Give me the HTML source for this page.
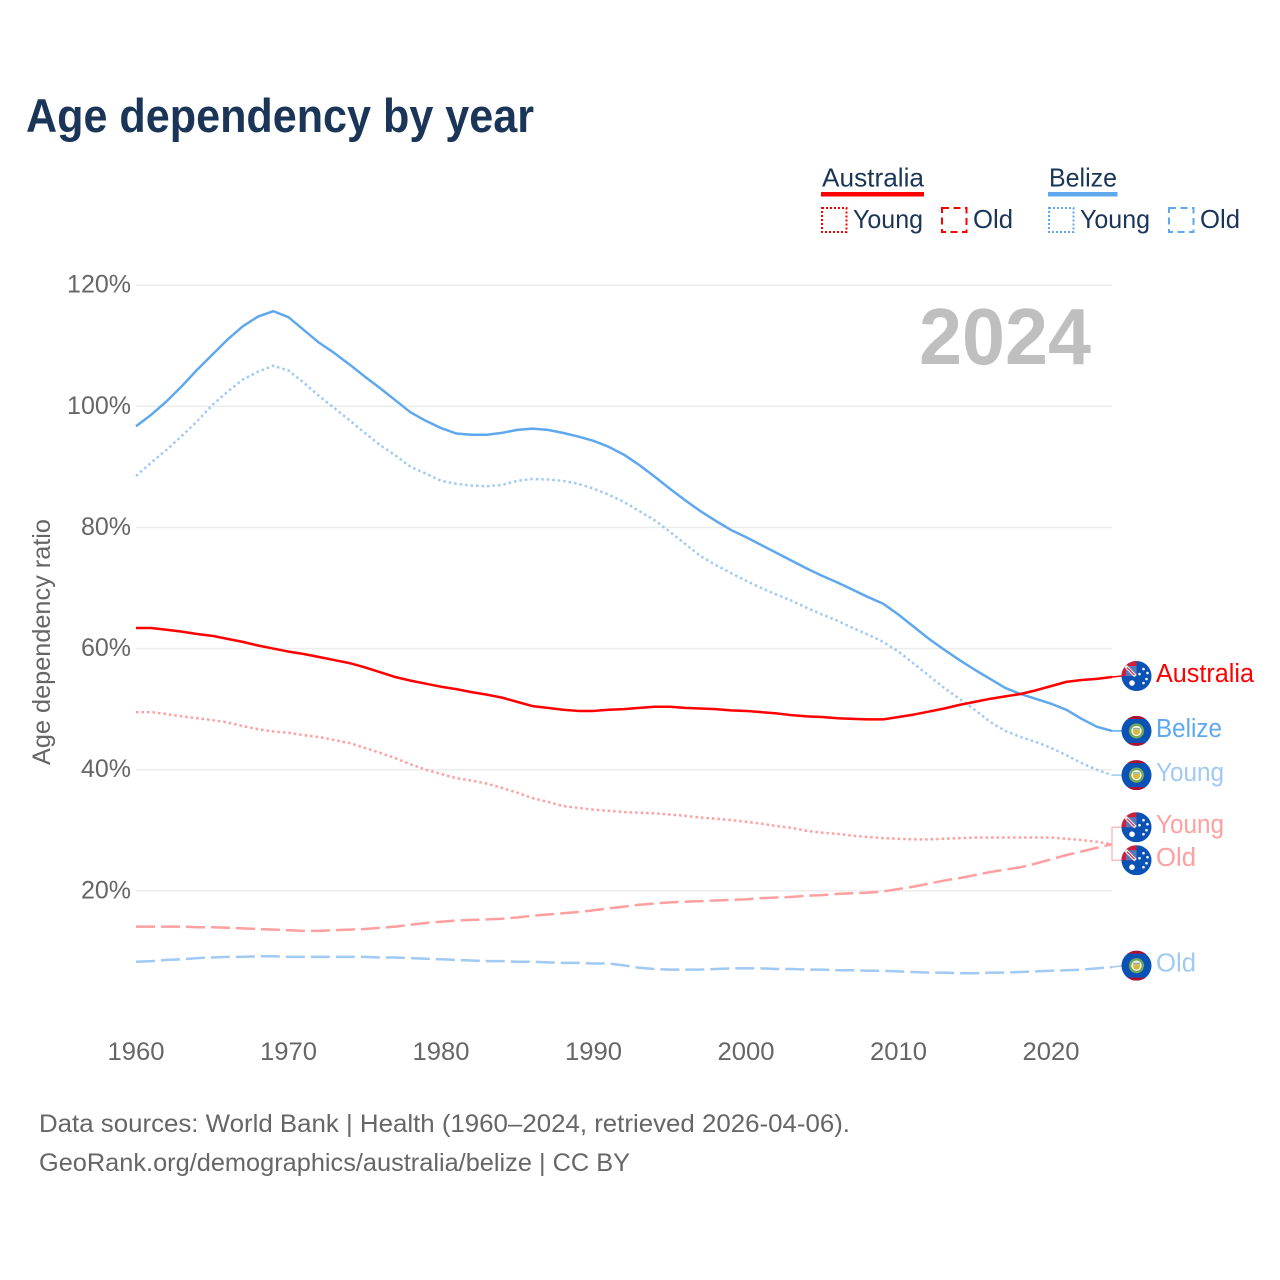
<!DOCTYPE html>
<html lang="en">
<head>
<meta charset="utf-8">
<title>Age dependency by year</title>
<style>
html,body{margin:0;padding:0;background:#fff}
svg{display:block}
text{font-family:"Liberation Sans",sans-serif}
</style>
</head>
<body>
<svg id="chart" xmlns="http://www.w3.org/2000/svg" width="1280" height="1280" viewBox="0 0 1280 1280">
  <defs><clipPath id="flag-clip"><circle cx="0" cy="0" r="15"/></clipPath></defs>
  <rect width="1280" height="1280" fill="#fff"/>
  <text x="26" y="132" font-size="47" font-weight="700" fill="#1a3557" textLength="508" lengthAdjust="spacingAndGlyphs">Age dependency by year</text>

  <g font-size="26" fill="#1a3557">
    <text x="822" y="186.5" textLength="102" lengthAdjust="spacingAndGlyphs">Australia</text>
    <rect x="821" y="192" width="103" height="4.5" fill="#ff0000"/>
    <rect x="822" y="208" width="24.5" height="24" fill="none" stroke="#ff0000" stroke-width="2" stroke-dasharray="2 2"/>
    <text x="853" y="228" textLength="70" lengthAdjust="spacingAndGlyphs">Young</text>
    <rect x="942" y="208" width="24.5" height="24" fill="none" stroke="#ff0000" stroke-width="2" stroke-dasharray="7 4.5"/>
    <text x="973" y="228" textLength="40" lengthAdjust="spacingAndGlyphs">Old</text>
    <text x="1049" y="186.5" textLength="68" lengthAdjust="spacingAndGlyphs">Belize</text>
    <rect x="1048" y="192" width="69.5" height="4.5" fill="#5fa8ee"/>
    <rect x="1049" y="208" width="24.5" height="24" fill="none" stroke="#5fa8ee" stroke-width="2" stroke-dasharray="2 2"/>
    <text x="1080" y="228" textLength="70" lengthAdjust="spacingAndGlyphs">Young</text>
    <rect x="1169" y="208" width="24.5" height="24" fill="none" stroke="#5fa8ee" stroke-width="2" stroke-dasharray="7 4.5"/>
    <text x="1200" y="228" textLength="40" lengthAdjust="spacingAndGlyphs">Old</text>
  </g>

  <g id="grid"></g>
  <g id="yticks" font-size="25" fill="#666"></g>
  <g id="xticks" font-size="25" fill="#666"></g>
  <text transform="translate(50,642) rotate(-90)" text-anchor="middle" font-size="25" fill="#666" textLength="246" lengthAdjust="spacingAndGlyphs">Age dependency ratio</text>
  <text x="919" y="364" font-size="80" font-weight="700" fill="#bfbfbf" textLength="172" lengthAdjust="spacingAndGlyphs">2024</text>
  <g id="connectors"></g>
  <g id="lines"></g>
  <g id="labels"></g>

  <text x="39" y="1132" font-size="25" fill="#666" textLength="811" lengthAdjust="spacingAndGlyphs">Data sources: World Bank | Health (1960–2024, retrieved 2026-04-06).</text>
  <text x="39" y="1171" font-size="25" fill="#666" textLength="591" lengthAdjust="spacingAndGlyphs">GeoRank.org/demographics/australia/belize | CC BY</text>
</svg>
<script>
const startYear = 1960;
const yTickValues = [20, 40, 60, 80, 100, 120];
const xTickValues = [1960, 1970, 1980, 1990, 2000, 2010, 2020];

const belizeTotal = [
  96.7,98.6,100.8,103.3,106,108.5,111,113.2,114.8,115.7,
  114.7,112.6,110.5,108.8,106.9,104.9,103,101,99,97.6,
  96.4,95.5,95.3,95.3,95.6,96.1,96.3,96.1,95.6,95,
  94.3,93.3,92,90.3,88.4,86.4,84.5,82.7,81.1,79.6,
  78.4,77.1,75.8,74.5,73.2,72,70.9,69.7,68.5,67.4,
  65.6,63.6,61.6,59.8,58.1,56.5,55,53.5,52.5,51.7,
  50.9,49.9,48.4,47.1,46.4
];
const belizeYoung = [
  88.5,90.7,92.8,95.1,97.5,100.2,102.4,104.4,105.7,106.7,
  105.9,103.9,101.7,99.7,97.7,95.6,93.6,91.9,90,88.9,
  87.7,87.2,86.9,86.8,87,87.7,88,87.9,87.7,87.2,
  86.4,85.4,84.2,82.7,81.2,79.3,77.3,75.3,73.8,72.5,
  71.2,70,68.9,67.9,66.7,65.6,64.6,63.4,62.3,61.1,
  59.5,57.5,55.5,53.5,51.7,49.9,47.9,46.4,45.4,44.6,
  43.6,42.4,41.1,40,39.1
];
const belizeOld = [
  8.3,8.4,8.6,8.7,8.9,9,9.1,9.1,9.2,9.2,
  9.1,9.1,9.1,9.1,9.1,9.1,9,9,8.9,8.8,
  8.7,8.6,8.5,8.4,8.4,8.3,8.3,8.2,8.1,8.1,
  8,8,7.7,7.3,7.1,7,7,7,7.1,7.2,
  7.2,7.2,7.1,7.1,7,7,6.9,6.9,6.8,6.8,
  6.7,6.6,6.5,6.5,6.4,6.4,6.5,6.5,6.6,6.7,
  6.8,6.9,7,7.2,7.4
];
const australiaTotal = [
  63.4,63.4,63.1,62.8,62.4,62.1,61.6,61.1,60.5,60,
  59.5,59.1,58.6,58.1,57.6,56.9,56.1,55.3,54.7,54.2,
  53.7,53.3,52.8,52.4,51.9,51.2,50.5,50.2,49.9,49.7,
  49.7,49.9,50,50.2,50.4,50.4,50.2,50.1,50,49.8,
  49.7,49.5,49.3,49,48.8,48.7,48.5,48.4,48.3,48.3,
  48.7,49.1,49.6,50.1,50.7,51.2,51.7,52.1,52.5,53.1,
  53.8,54.5,54.8,55,55.3
];
const australiaYoung = [
  49.5,49.5,49.2,48.8,48.5,48.2,47.8,47.2,46.7,46.3,
  46.1,45.7,45.4,44.9,44.4,43.6,42.8,41.9,40.9,40,
  39.3,38.6,38.2,37.7,37,36.2,35.3,34.7,34,33.7,
  33.4,33.2,33,32.9,32.8,32.6,32.4,32.1,31.9,31.7,
  31.4,31.1,30.7,30.4,29.9,29.6,29.4,29.1,28.9,28.7,
  28.6,28.5,28.5,28.6,28.7,28.8,28.8,28.8,28.8,28.8,
  28.8,28.6,28.4,28.1,27.7
];
const australiaOld = [
  14.1,14.1,14.1,14.1,14,14,13.9,13.8,13.7,13.6,
  13.5,13.4,13.4,13.5,13.6,13.7,13.9,14.1,14.4,14.7,
  14.9,15.1,15.2,15.3,15.4,15.6,15.9,16.1,16.3,16.5,
  16.8,17.1,17.4,17.7,17.9,18.1,18.2,18.3,18.4,18.5,
  18.6,18.8,18.9,19,19.2,19.3,19.5,19.6,19.7,19.9,
  20.3,20.7,21.2,21.7,22.1,22.6,23.1,23.5,23.9,24.5,
  25.2,25.9,26.5,27.1,27.7
];

const NS = 'http://www.w3.org/2000/svg';
const xScale = function (year) { return 136 + (year - startYear) * 15.25; };
const yScale = function (v) { return 1012 - v * 6.0575; };
const RED = '#ff0000', BLUE = '#5fa8ee', LRED = '#ff9f9f', LBLUE = '#a0c9f3';
const DOTS = '2.5 3', DASH = '19 6';

function make(tag, parent, attrs, txt) {
  const el = document.createElementNS(NS, tag);
  for (const k in attrs) el.setAttribute(k, attrs[k]);
  if (txt !== undefined) el.textContent = txt;
  parent.appendChild(el);
  return el;
}

const gridG = document.getElementById('grid');
const yG = document.getElementById('yticks');
yTickValues.forEach(function (v) {
  const gl = make('line', gridG, {x1: 136, x2: 1112, y1: yScale(v), y2: yScale(v), stroke: '#ececec', 'stroke-width': 1.5});
  
  
  const t = make('text', yG, {x: 131, y: yScale(v) + 7.5, 'text-anchor': 'end'}, v + '%');
  
  
});

const xG = document.getElementById('xticks');
xTickValues.forEach(function (yr) {
  const t = make('text', xG, {x: xScale(yr) - 28.5, y: 1060, textLength: 57, lengthAdjust: 'spacingAndGlyphs'}, String(yr));
  
  
});

function drawAustraliaFlag(g) {
  const c = make('g', g, {'clip-path': 'url(#flag-clip)'});
  make('rect', c, {x: -15, y: -15, width: 30, height: 30, fill: '#0a52b5'});
  make('rect', c, {x: -15, y: -15, width: 15, height: 15, fill: '#cf1f3c'});
  make('rect', c, {x: -10.5, y: -10, width: 10.5, height: 10, fill: '#5a78b8'});
  make('path', c, {d: 'M-11 -10 L-1 0', stroke: '#f4eef0', 'stroke-width': 3.4, fill: 'none'});
  make('path', c, {d: 'M-9.5 -8.5 L-2 -1', stroke: '#d8324e', 'stroke-width': 1.2, fill: 'none'});
  make('circle', c, {cx: -4.5, cy: 7, r: 2.8, fill: '#fff'});
  [[7, -7], [11, -3], [3, -2], [7, 7], [10, 3]].forEach(function (p) {
    make('circle', c, {cx: p[0], cy: p[1], r: 1.3, fill: '#fff'});
  });
}
function drawBelizeFlag(g) {
  const c = make('g', g, {'clip-path': 'url(#flag-clip)'});
  make('rect', c, {x: -15, y: -15, width: 30, height: 30, fill: '#0a52b5'});
  make('rect', c, {x: -15, y: -15, width: 30, height: 3, fill: '#b01030'});
  make('rect', c, {x: -15, y: 12, width: 30, height: 3, fill: '#b01030'});
  make('circle', c, {cx: 0, cy: 0, r: 7.6, fill: '#6fa85a'});
  make('circle', c, {cx: 0, cy: 0, r: 5.2, fill: '#f4f2e6'});
  make('path', c, {d: 'M-3.4 -1.2 H3.4 V1 A3.4 3 0 0 1 -3.4 1 Z', fill: '#d9b840'});
  make('rect', c, {x: -3.4, y: -3, width: 6.8, height: 1.6, fill: '#8fb0a0'});
}

const seriesList = [
  {key: 'belize-total', values: belizeTotal, color: BLUE, dash: null, label: 'Belize', flag: drawBelizeFlag, labelColor: BLUE, shift: 0, w: 66},
  {key: 'belize-young', values: belizeYoung, color: LBLUE, dash: DOTS, label: 'Young', flag: drawBelizeFlag, labelColor: LBLUE, shift: 0, w: 68},
  {key: 'belize-old', values: belizeOld, color: LBLUE, dash: DASH, label: 'Old', flag: drawBelizeFlag, labelColor: LBLUE, shift: -1.5, w: 40},
  {key: 'australia-young', values: australiaYoung, color: LRED, dash: DOTS, label: 'Young', flag: drawAustraliaFlag, labelColor: LRED, shift: -17, w: 68},
  {key: 'australia-old', values: australiaOld, color: LRED, dash: DASH, label: 'Old', flag: drawAustraliaFlag, labelColor: LRED, shift: 16, w: 40},
  {key: 'australia-total', values: australiaTotal, color: RED, dash: null, label: 'Australia', flag: drawAustraliaFlag, labelColor: RED, shift: -1, w: 98}
];

const lineG = document.getElementById('lines');
const connG = document.getElementById('connectors');
const labelG = document.getElementById('labels');
seriesList.forEach(function (s) {
  const pts = s.values.map(function (v, i) { return xScale(startYear + i).toFixed(2) + ',' + yScale(v).toFixed(2); }).join(' ');
  const attrs = {points: pts, fill: 'none', stroke: s.color, 'stroke-width': 2.5, 'stroke-linejoin': 'round'};
  if (s.dash) attrs['stroke-dasharray'] = s.dash;
  const pl = make('polyline', lineG, attrs);
  
  

  const endV = s.values[s.values.length - 1];
  const endY = yScale(endV);
  const fy = endY + s.shift;
  const bracket = s.shift > 2 || s.shift < -2;
  const conn = bracket
    ? 'M1112 ' + endY + ' L1112 ' + fy + ' L1122 ' + fy
    : 'M1112 ' + endY + ' L1122 ' + fy;
  const cp = make('path', connG, {d: conn, fill: 'none', stroke: s.color, 'stroke-width': bracket ? 1 : 1.5});
  
  

  const fg = make('g', labelG, {transform: 'translate(1136.5,' + fy + ')'});
  
  
  s.flag(fg);

  const t = make('text', labelG, {x: 1156, y: fy + 6, 'font-size': 25.5, fill: s.labelColor, textLength: s.w, lengthAdjust: 'spacingAndGlyphs'}, s.label);
  
  
});
</script>
</body>
</html>
